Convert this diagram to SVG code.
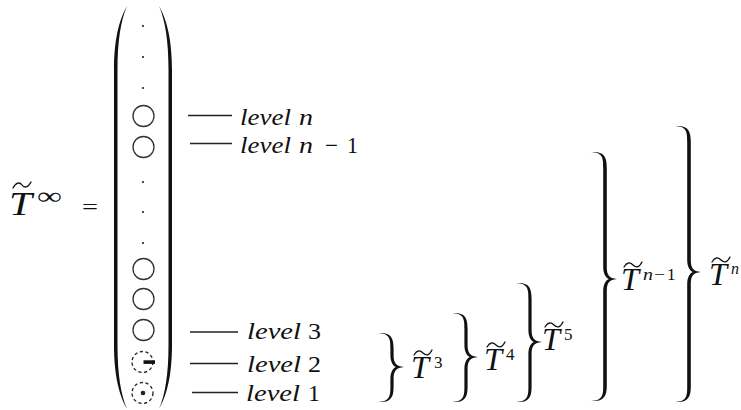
<svg xmlns="http://www.w3.org/2000/svg" width="741" height="410" viewBox="0 0 741 410">
<style>
  .it { font-family: "Liberation Serif", serif; font-style: italic; fill: #111; }
  .rm { font-family: "Liberation Serif", serif; fill: #111; }
  .lv { font-size: 23px; }
  .big { font-size: 31px; }
  .sup { font-size: 17px; }
  .tl { fill: none; stroke: #111; stroke-width: 1.3; stroke-linecap: round; }
  .lead { stroke: #222; stroke-width: 1.4; }
  .circ { fill: none; stroke: #333; stroke-width: 1.3; }
  .dash { fill: none; stroke: #222; stroke-width: 1.3; stroke-dasharray: 3.2 2.6; }
  .dot { fill: #222; }
  .brace { fill: #111; }
  .paren { fill: #111; }
</style>
<rect width="741" height="410" fill="#fff"/>

<g id="lhs">
  <text class="it" x="9" y="215" font-size="33" textLength="23" lengthAdjust="spacingAndGlyphs">T</text>
  <path class="tl" d="M13,188 C16,182 20,182 22,185 C24,188 28,188 31,182"/>
  <text class="rm" x="37" y="204" font-size="24" textLength="25" lengthAdjust="spacingAndGlyphs">∞</text>
  <text class="rm" x="82" y="214" font-size="22" textLength="16" lengthAdjust="spacingAndGlyphs">=</text>
</g>

<g id="vector">
  <path class="paren" d="M127,6 C119,20 114,40 114,70 L114,345 C114,375 119,395 127,409 C121,395 117.5,375 117.5,345 L117.5,70 C117.5,40 121,20 127,6 Z"/>
  <path class="paren" d="M159,6 C167,20 172,40 172,70 L172,345 C172,375 167,395 159,409 C165,395 168.5,375 168.5,345 L168.5,70 C168.5,40 165,20 159,6 Z"/>
  <circle class="dot" cx="143" cy="26" r="1.1"/>
  <circle class="dot" cx="143" cy="57" r="1.1"/>
  <circle class="dot" cx="143" cy="88" r="1.1"/>
  <circle class="circ" cx="143.5" cy="116" r="10.5"/>
  <circle class="circ" cx="143.5" cy="147" r="10.5"/>
  <circle class="dot" cx="143" cy="182" r="1.1"/>
  <circle class="dot" cx="143" cy="212" r="1.1"/>
  <circle class="dot" cx="143" cy="243" r="1.1"/>
  <circle class="circ" cx="143.5" cy="269" r="10.5"/>
  <circle class="circ" cx="143.5" cy="299" r="10.5"/>
  <circle class="circ" cx="143.5" cy="330" r="10.5"/>
  <circle class="dash" cx="142.5" cy="362" r="10.5"/>
  <rect x="143.5" y="360.3" width="11.5" height="3.6" fill="#111"/>
  <circle class="dash" cx="142.5" cy="393" r="10.5"/>
  <circle class="dot" cx="143" cy="393" r="2.3"/>
</g>

<g id="connectors">
  <line class="lead" x1="188" y1="115.5" x2="232" y2="115.5"/>
  <line class="lead" x1="190" y1="143.5" x2="232" y2="143.5"/>
  <line class="lead" x1="190" y1="332" x2="238" y2="332"/>
  <line class="lead" x1="190" y1="363.5" x2="238" y2="363.5"/>
  <line class="lead" x1="192" y1="392.5" x2="238" y2="392.5"/>
</g>

<g id="level-n">
  <text class="it lv" x="240" y="125" textLength="51" lengthAdjust="spacingAndGlyphs">level</text>
  <text class="it lv" x="299" y="125" textLength="14" lengthAdjust="spacingAndGlyphs">n</text>
</g>
<g id="level-n-1">
  <text class="it lv" x="240" y="153" textLength="51" lengthAdjust="spacingAndGlyphs">level</text>
  <text class="it lv" x="299" y="153" textLength="14" lengthAdjust="spacingAndGlyphs">n</text>
  <text class="rm lv" x="325" y="153" textLength="13" lengthAdjust="spacingAndGlyphs">−</text>
  <text class="rm lv" x="347" y="153" textLength="11" lengthAdjust="spacingAndGlyphs">1</text>
</g>
<g id="level-3">
  <text class="it lv" x="247" y="339" textLength="54" lengthAdjust="spacingAndGlyphs">level</text>
  <text class="rm lv" x="308" y="339" textLength="13" lengthAdjust="spacingAndGlyphs">3</text>
</g>
<g id="level-2">
  <text class="it lv" x="247" y="372" textLength="54" lengthAdjust="spacingAndGlyphs">level</text>
  <text class="rm lv" x="308" y="372" textLength="13" lengthAdjust="spacingAndGlyphs">2</text>
</g>
<g id="level-1">
  <text class="it lv" x="246" y="401" textLength="54" lengthAdjust="spacingAndGlyphs">level</text>
  <text class="rm lv" x="308" y="401" textLength="12" lengthAdjust="spacingAndGlyphs">1</text>
</g>

<g id="brace-T3">
  <path class="brace" transform="translate(392,0)" d="M-14,333 C0,332 1.6,339 1.6,349 L1.6,355 C1.6,363 4,366.2 12,367 C4,367.8 1.6,371 1.6,379 L1.6,386 C1.6,396 0,403 -14,402 C-2,401.5 -1.6,396 -1.6,386 L-1.6,379 C-1.6,372 1,368 4,367 C1,366 -1.6,362 -1.6,355 L-1.6,349 C-1.6,339 -2,333.5 -14,333 Z"/>
  <text class="it big" x="411" y="378" textLength="18" lengthAdjust="spacingAndGlyphs">T</text>
  <path class="tl" d="M414,355 C417,350 420,350 423,353 C426,356 429,356 432,350"/>
  <text class="rm sup" x="434" y="368">3</text>
</g>

<g id="brace-T4">
  <path class="brace" transform="translate(466,0)" d="M-14,313 C0,312 1.6,319 1.6,329 L1.6,345 C1.6,353 4,356.2 12,357 C4,357.8 1.6,361 1.6,369 L1.6,386 C1.6,396 0,403 -14,402 C-2,401.5 -1.6,396 -1.6,386 L-1.6,369 C-1.6,362 1,358 4,357 C1,356 -1.6,352 -1.6,345 L-1.6,329 C-1.6,319 -2,313.5 -14,313 Z"/>
  <text class="it big" x="484" y="370" textLength="18" lengthAdjust="spacingAndGlyphs">T</text>
  <path class="tl" d="M487,347 C490,342 493,342 496,345 C499,348 502,348 505,342"/>
  <text class="rm sup" x="506" y="360">4</text>
</g>

<g id="brace-T5">
  <path class="brace" transform="translate(530,0)" d="M-14,283 C0,282 1.6,289 1.6,299 L1.6,330 C1.6,338 4,341.2 12,342 C4,342.8 1.6,346 1.6,354 L1.6,386 C1.6,396 0,403 -14,402 C-2,401.5 -1.6,396 -1.6,386 L-1.6,354 C-1.6,347 1,343 4,342 C1,341 -1.6,337 -1.6,330 L-1.6,299 C-1.6,289 -2,283.5 -14,283 Z"/>
  <text class="it big" x="542" y="350" textLength="18" lengthAdjust="spacingAndGlyphs">T</text>
  <path class="tl" d="M545,327 C548,322 551,322 554,325 C557,328 560,328 563,322"/>
  <text class="rm sup" x="564" y="340">5</text>
</g>

<g id="brace-Tn-1">
  <path class="brace" transform="translate(605,0)" d="M-14,152 C0,151 1.8,158 1.8,168 L1.8,267 C1.8,275 4,278.2 12,279 C4,279.8 1.8,283 1.8,291 L1.8,385 C1.8,395 0,402 -14,401 C-2,400.5 -1.8,395 -1.8,385 L-1.8,291 C-1.8,284 1,280 4,279 C1,278 -1.8,274 -1.8,267 L-1.8,168 C-1.8,158 -2,152.5 -14,152 Z"/>
  <text class="it big" x="621" y="290" textLength="18" lengthAdjust="spacingAndGlyphs">T</text>
  <path class="tl" d="M624,267 C627,262 630,262 633,265 C636,268 639,268 642,262"/>
  <text class="it sup" x="643" y="280" textLength="10" lengthAdjust="spacingAndGlyphs">n</text>
  <text class="rm sup" x="654" y="280" textLength="11" lengthAdjust="spacingAndGlyphs">−</text>
  <text class="rm sup" x="667" y="280">1</text>
</g>

<g id="brace-Tn">
  <path class="brace" transform="translate(689,0)" d="M-14,126 C0,125 1.8,132 1.8,142 L1.8,260 C1.8,268 4,271.2 12,272 C4,272.8 1.8,276 1.8,284 L1.8,386 C1.8,396 0,403 -14,402 C-2,401.5 -1.8,396 -1.8,386 L-1.8,284 C-1.8,277 1,273 4,272 C1,271 -1.8,267 -1.8,260 L-1.8,142 C-1.8,132 -2,126.5 -14,126 Z"/>
  <text class="it big" x="709" y="285" textLength="18" lengthAdjust="spacingAndGlyphs">T</text>
  <path class="tl" d="M712,262 C715,257 718,257 721,260 C724,263 727,263 730,257"/>
  <text class="it sup" x="731" y="274" textLength="8" lengthAdjust="spacingAndGlyphs">n</text>
</g>
</svg>
